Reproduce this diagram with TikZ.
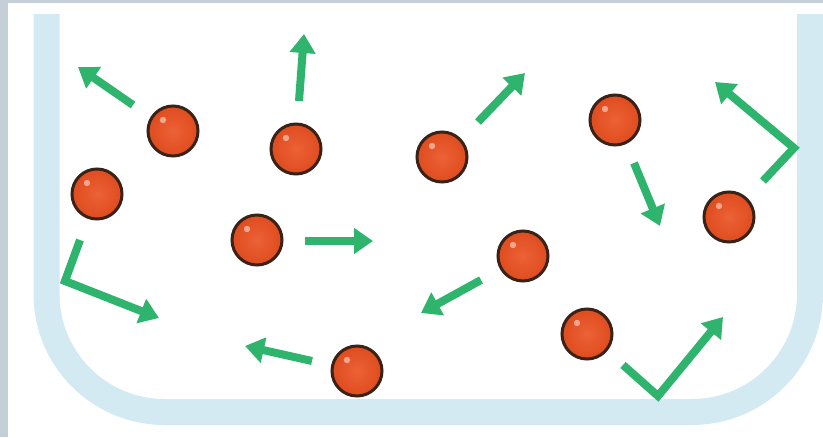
\documentclass[tikz,border=0pt]{standalone}
\usetikzlibrary{arrows.meta,calc}
\definecolor{frame}{HTML}{C4CFD7}
\definecolor{wall}{HTML}{D4EAF3}
\definecolor{move}{HTML}{2EB46C}
\definecolor{ballfill}{HTML}{EA5020}
\definecolor{balledge}{HTML}{3A2216}
\definecolor{shine}{HTML}{F4A58E}
\tikzset{
  particle/.style={circle, minimum size=50pt, inner sep=0pt, draw=balledge,
    line width=3pt, inner color=ballfill!90!white, outer color=ballfill!95!black},
  motion/.style={draw=move, line width=8pt, line join=miter,
    -{Triangle[length=19pt,width=25pt]}},
}
\newcommand{\particleat}[2]{%
  \node[particle] (#1) at (#2) {};
  \fill[shine] ($(#1.center)+(-10,-11)$) circle (3.2pt);
}
\begin{document}
\begin{tikzpicture}[x=1pt,y=-1pt]
  \useasboundingbox (0,0) rectangle (823,437);
  % backdrop with the grey edge strips
  \fill[frame] (0,0) rectangle (823,437);
  \fill[white] (8,3) rectangle (823,437);

  % the vessel: two side walls joined by a rounded floor
  \draw[wall, line width=26pt]
    (46.5,14) -- (46.5,294) arc[start angle=180, end angle=90, radius=118]
    -- (692,412) arc[start angle=90, end angle=0, radius=118] -- (810,14);

  % particles
  \particleat{p1}{173,131}
  \particleat{p2}{97,194}
  \particleat{p3}{296,149}
  \particleat{p4}{442,157}
  \particleat{p5}{615,120}
  \particleat{p6}{729,217}
  \particleat{p7}{257,240}
  \particleat{p8}{523,256}
  \particleat{p9}{357,371}
  \particleat{p10}{587,334}

  % motion arrows
  \draw[motion] (133,105) -- (78,67);
  \draw[motion] (299,101) -- (304,34);
  \draw[motion] (478,122) -- (525,73);
  \draw[motion] (763,181) -- (794,148) -- (715,82);
  \draw[motion] (634,163) -- (660,226);
  \draw[motion] (305,241) -- (373,241);
  \draw[motion] (481,280) -- (421,313);
  \draw[motion] (312,361) -- (245,346);
  \draw[motion] (80,240) -- (65,281) -- (159,318);
  \draw[motion] (623,365) -- (658,396) -- (723,317);
\end{tikzpicture}
\end{document}
